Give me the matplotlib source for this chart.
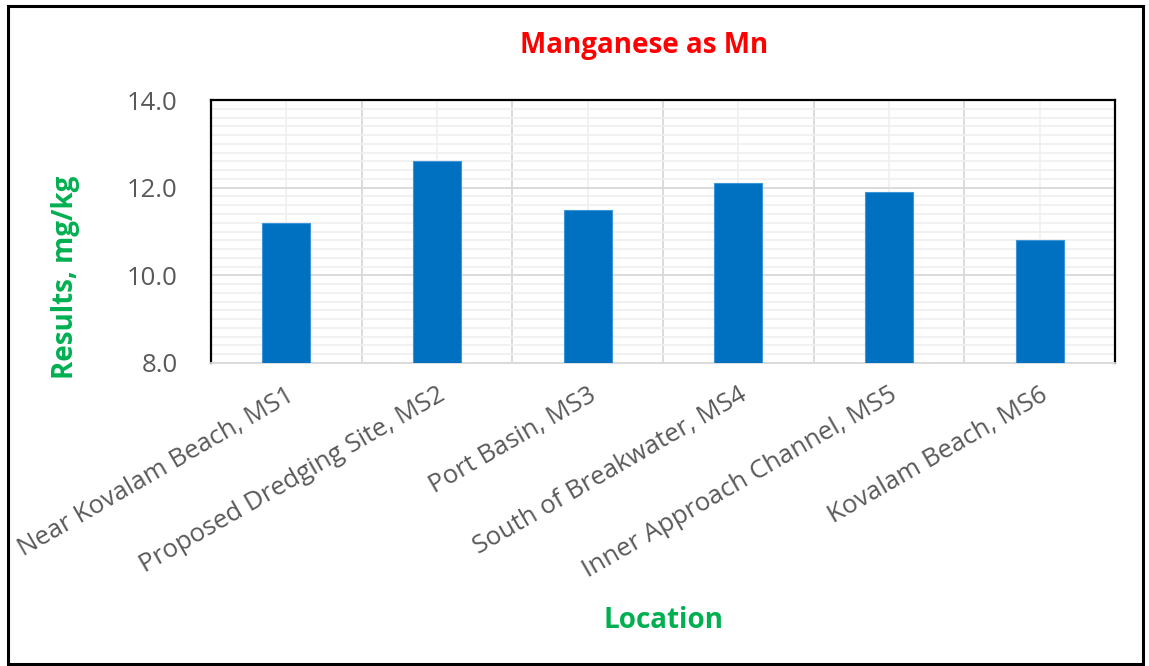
import matplotlib
matplotlib.use("Agg")
import matplotlib.pyplot as plt
from matplotlib.patches import Rectangle
from matplotlib.ticker import MultipleLocator, FixedLocator

categories = ["Near Kovalam Beach, MS1", "Proposed Dredging Site, MS2", "Port Basin, MS3",
              "South of Breakwater, MS4", "Inner Approach Channel, MS5", "Kovalam Beach, MS6"]
values = [11.2, 12.6, 11.5, 12.1, 11.9, 10.8]
yticks = [8.0, 10.0, 12.0, 14.0]
title = "Manganese as Mn"
xlabel = "Location"
ylabel = "Results, mg/kg"

plt.rcParams['font.family'] = ['Open Sans', 'DejaVu Sans']

fig = plt.figure(figsize=(11.49, 6.66), dpi=100)
ax = fig.add_axes([211/1149, 1-363/666, (1115-211)/1149, (363-100)/666])

x = list(range(len(categories)))
ax.bar(x, values, width=0.32, color='#0070C0', edgecolor='#3B95D6', linewidth=0.8, zorder=3)

ax.set_xlim(-0.5, len(categories)-0.5)
ax.set_ylim(8, 14)
ax.set_yticks(yticks)
ax.set_yticklabels([f"{v:.1f}" for v in yticks])
ax.yaxis.set_minor_locator(MultipleLocator(0.2))
ax.set_xticks(x)
ax.xaxis.set_minor_locator(FixedLocator([i+0.5 for i in range(len(categories)-1)]))
ax.set_xticklabels(categories, rotation=30, ha='right', rotation_mode='anchor')

ax.grid(True, which='minor', axis='y', color='#EFEFEF', linewidth=1.2, zorder=0)
ax.grid(True, which='major', axis='y', color='#D9D9D9', linewidth=1.3, zorder=1)
ax.grid(True, which='major', axis='x', color='#F0F0F0', linewidth=1.2, zorder=0)
ax.grid(True, which='minor', axis='x', color='#D9D9D9', linewidth=1.3, zorder=1)

ax.tick_params(axis='both', which='both', length=0, colors='#595959', labelsize=18.5)
ax.tick_params(axis='y', pad=24)
ax.tick_params(axis='x', pad=14)

for s in ['left', 'top', 'right']:
    ax.spines[s].set_color('black')
    ax.spines[s].set_linewidth(1.6)
ax.spines['bottom'].set_color('#D9D9D9')
ax.spines['bottom'].set_linewidth(1.3)

fig.text(644/1149, 1-45/666, title, color='#FF0000', fontsize=20, fontweight='bold',
         ha='center', va='center')
fig.text(663/1149, 1-620/666, xlabel, color='#00B050', fontsize=20, fontweight='bold',
         ha='center', va='center')
fig.text(66/1149, 1-277/666, ylabel, color='#00B050', fontsize=20, fontweight='bold',
         ha='center', va='center', rotation=90)

fig.patches.append(Rectangle((8/1149, 2/666), (1143-8)/1149, (660-2)/666,
                             transform=fig.transFigure, fill=False, edgecolor='black',
                             linewidth=2.2, zorder=10))

fig.savefig("out.png", dpi=100, facecolor='white')
